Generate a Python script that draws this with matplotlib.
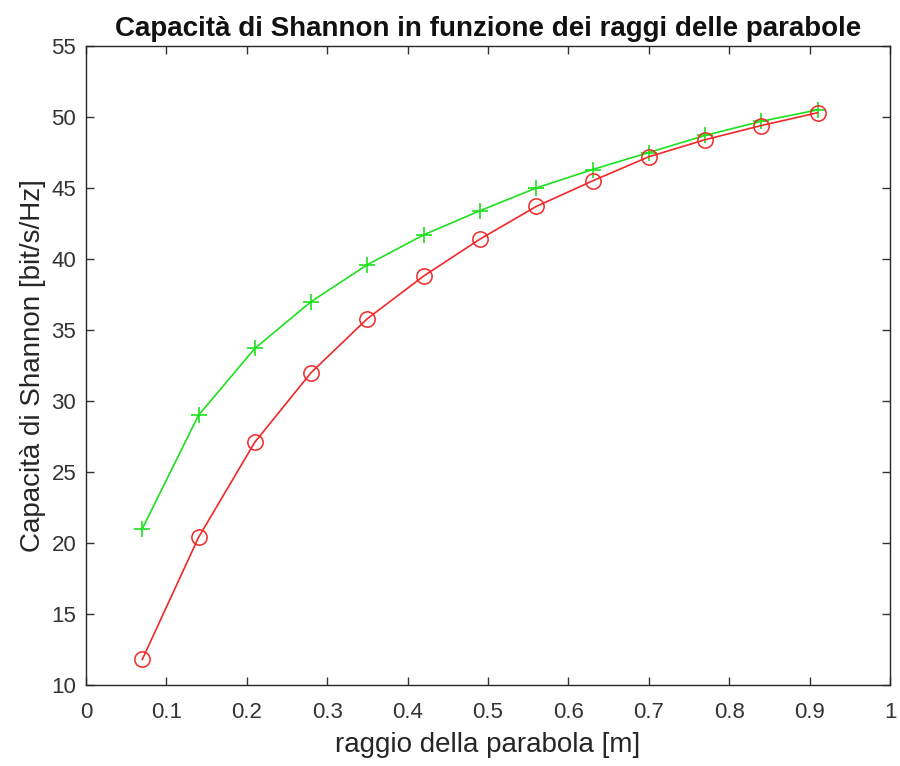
import matplotlib
matplotlib.use("Agg")
import matplotlib.pyplot as plt

# raggi delle parabole [m]
raggi = [0.07, 0.14, 0.21, 0.28, 0.35, 0.42, 0.49, 0.56, 0.63, 0.70, 0.77, 0.84, 0.91]

# capacita' di Shannon [bit/s/Hz]
cap_verde = [21.0, 29.0, 33.7, 37.0, 39.6, 41.7, 43.4, 45.0, 46.3, 47.5, 48.7, 49.7, 50.5]
cap_rossa = [11.8, 20.4, 27.1, 32.0, 35.8, 38.8, 41.4, 43.7, 45.5, 47.2, 48.4, 49.4, 50.3]

plt.rcParams["font.family"] = ["Liberation Sans", "DejaVu Sans"]

fig = plt.figure(figsize=(9, 7.66), dpi=100)
ax = fig.add_axes([86 / 900, 1 - 685 / 766, 804 / 900, 639 / 766])

ax.plot(raggi, cap_verde, color="#1ee01e", lw=1.2, marker="+", ms=12, mew=1.2)
ax.plot(raggi, cap_rossa, color="#f02828", lw=1.2, marker="o", ms=11,
        mfc="none", mew=1.1)

ax.set_xlim(0, 1)
ax.set_ylim(10, 55)
ax.set_xticks([0, 0.1, 0.2, 0.3, 0.4, 0.5, 0.6, 0.7, 0.8, 0.9, 1])
ax.set_xticklabels(["0", "0.1", "0.2", "0.3", "0.4", "0.5", "0.6", "0.7", "0.8", "0.9", "1"])
ax.set_yticks(range(10, 56, 5))

ax.tick_params(direction="in", length=6, width=1, labelsize=16, colors="#333333",
               top=True, right=True)
ax.tick_params(axis="x", pad=12)
ax.tick_params(axis="y", pad=7)
for s in ax.spines.values():
    s.set_color("#262626")
    s.set_linewidth(1)

ax.set_title("Capacità di Shannon in funzione dei raggi delle parabole",
             fontsize=20, fontweight="bold", pad=7, color="#111111")
ax.set_xlabel("raggio della parabola [m]", fontsize=20, color="#262626", labelpad=7)
ax.set_ylabel("Capacità di Shannon [bit/s/Hz]", fontsize=20, color="#262626", labelpad=4)

fig.savefig("out.png", dpi=100)
